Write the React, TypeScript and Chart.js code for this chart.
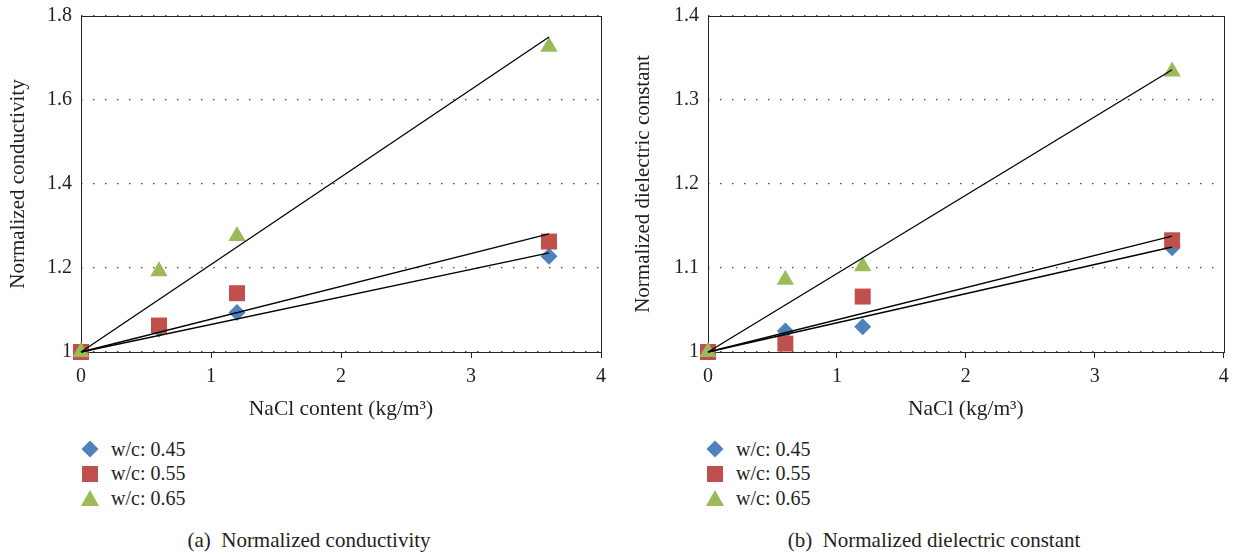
import React, { useEffect, useRef } from "react";
import { Chart, registerables } from "chart.js";

Chart.register(...registerables);

// ---------- data ----------
const naclContent = [0, 0.6, 1.2, 3.6];
const trendX = [0, 3.6];

const seriesLabels = ["w/c: 0.45", "w/c: 0.55", "w/c: 0.65"];
const seriesColors = ["#4F81BD", "#C0504D", "#9BBB59"];
const markerStyles = ["rectRot", "rect", "triangle"];
const markerRadius = [8.5, 11.3, 10];

// (a) normalized conductivity
const condWc045 = [1, 1.055, 1.094, 1.228];
const condWc055 = [1, 1.063, 1.14, 1.263];
const condWc065 = [1, 1.192, 1.276, 1.727];
const condTrendEnd = [1.236, 1.281, 1.75];
const condTicks = [1, 1.2, 1.4, 1.6, 1.8];

// (b) normalized dielectric constant
const dielWc045 = [1, 1.025, 1.03, 1.124];
const dielWc055 = [1, 1.01, 1.066, 1.133];
const dielWc065 = [1, 1.086, 1.102, 1.334];
const dielTrendEnd = [1.125, 1.138, 1.336];
const dielTicks = [1, 1.1, 1.2, 1.3, 1.4];

const xTicks = [0, 1, 2, 3, 4];

const FONT = "'Liberation Serif', 'DejaVu Serif', serif";
const TEXT = "#231f20";

const boxPlugin = {
  id: "plotBox",
  beforeDatasetsDraw(chart: any) {
    const { ctx, chartArea } = chart;
    ctx.save();
    ctx.strokeStyle = "#222";
    ctx.lineWidth = 1;
    ctx.strokeRect(
      Math.round(chartArea.left) + 0.5,
      Math.round(chartArea.top) + 0.5,
      Math.round(chartArea.right - chartArea.left),
      Math.round(chartArea.bottom - chartArea.top)
    );
    ctx.restore();
  },
};

type PanelProps = {
  left: number;
  width: number;
  height: number;
  yAxisW: number;
  padRight: number;
  yTitlePad: number;
  series: number[][];
  trendEnds: number[];
  yTicks: number[];
  yTitle: string;
  xTitle: string;
};

function Panel(p: PanelProps) {
  const ref = useRef<HTMLCanvasElement | null>(null);
  useEffect(() => {
    if (!ref.current) return;
    const datasets: any[] = [];
    // trend lines (drawn on top)
    p.trendEnds.forEach((end, i) => {
      datasets.push({
        type: "line",
        label: "trend " + seriesLabels[i],
        data: trendX.map((x, k) => ({ x, y: k === 0 ? 1 : end })),
        borderColor: "#000",
        borderWidth: 1.3,
        pointRadius: 0,
        showLine: true,
        fill: false,
        clip: false,
        order: 0,
      });
    });
    p.series.forEach((vals, i) => {
      datasets.push({
        type: "scatter",
        label: seriesLabels[i],
        data: naclContent.map((x, k) => ({ x, y: vals[k] })),
        backgroundColor: seriesColors[i],
        borderColor: seriesColors[i],
        pointStyle: markerStyles[i],
        pointRadius: markerRadius[i],
        pointBorderWidth: 0,
        showLine: false,
        clip: false,
        order: 3 - i,
      });
    });
    const yMin = p.yTicks[0];
    const yMax = p.yTicks[p.yTicks.length - 1];
    const chart = new Chart(ref.current, {
      type: "scatter",
      data: { datasets },
      plugins: [boxPlugin],
      options: {
        animation: false,
        responsive: false,
        layout: { padding: { left: 0, top: 16, right: p.padRight, bottom: 0 } },
        plugins: { legend: { display: false }, tooltip: { enabled: false } },
        scales: {
          x: {
            type: "linear",
            min: 0,
            max: 4,
            afterBuildTicks: (s: any) => {
              s.ticks = xTicks.map((v) => ({ value: v }));
            },
            afterFit: (s: any) => {
              s.height = p.height - 352;
              s.paddingLeft = 0;
              s.paddingRight = 0;
            },
            ticks: {
              font: { family: FONT, size: 20 },
              color: TEXT,
              padding: 7,
              maxRotation: 0,
              callback: (v: any) => String(v),
            },
            grid: {
              display: true,
              drawOnChartArea: false,
              drawTicks: true,
              tickLength: 6,
              tickColor: "#222",
              tickWidth: 1,
            },
            border: { display: false },
            title: {
              display: true,
              text: p.xTitle,
              font: { family: FONT, size: 21.5 },
              color: TEXT,
              padding: { top: 0, bottom: 3 },
            },
          },
          y: {
            type: "linear",
            min: yMin,
            max: yMax,
            afterBuildTicks: (s: any) => {
              s.ticks = p.yTicks.map((v) => ({ value: v }));
            },
            afterFit: (s: any) => {
              s.width = p.yAxisW;
              s.paddingTop = 0;
              s.paddingBottom = 0;
            },
            ticks: {
              font: { family: FONT, size: 20 },
              color: TEXT,
              padding: 9,
              callback: (v: any) => String(v),
            },
            grid: {
              display: true,
              drawTicks: false,
              color: "#444",
              lineWidth: 1.2,
            },
            border: { display: false, dash: [1.5, 10.5] },
            title: {
              display: true,
              text: p.yTitle,
              font: { family: FONT, size: 21 },
              color: TEXT,
              padding: { top: p.yTitlePad, bottom: 0 },
            },
          },
        },
      } as any,
    });
    return () => chart.destroy();
  }, []);
  return (
    <canvas
      ref={ref}
      width={p.width}
      height={p.height}
      style={{ position: "absolute", left: p.left, top: 0, width: p.width, height: p.height }}
    />
  );
}

function Marker({ i }: { i: number }) {
  const c = seriesColors[i];
  if (i === 0)
    return (
      <div style={{ width: 12, height: 12, background: c, transform: "rotate(45deg)" }} />
    );
  if (i === 1) return <div style={{ width: 16, height: 16, background: c }} />;
  return (
    <div
      style={{
        width: 0,
        height: 0,
        borderLeft: "9px solid transparent",
        borderRight: "9px solid transparent",
        borderBottom: "16px solid " + c,
      }}
    />
  );
}

function Legend({ x, y }: { x: number; y: number }) {
  return (
    <>
      {seriesLabels.map((lab, i) => (
        <div
          key={lab}
          style={{
            position: "absolute",
            left: x - 12,
            top: y + i * 24.6 - 12,
            height: 24,
            display: "flex",
            alignItems: "center",
            fontFamily: FONT,
            fontSize: 20,
            color: TEXT,
            whiteSpace: "nowrap",
          }}
        >
          <div style={{ width: 24, height: 24, display: "flex", alignItems: "center", justifyContent: "center" }}>
            <Marker i={i} />
          </div>
          <span style={{ marginLeft: 9 }}>{lab}</span>
        </div>
      ))}
    </>
  );
}

function Caption({ cx, text }: { cx: number; text: string }) {
  return (
    <div
      style={{
        position: "absolute",
        left: cx - 200,
        width: 400,
        top: 528,
        textAlign: "center",
        fontFamily: FONT,
        fontSize: 21,
        lineHeight: "24px",
        color: TEXT,
        whiteSpace: "pre",
      }}
    >
      {text}
    </div>
  );
}

export default function App() {
  return (
    <div
      style={{
        position: "absolute",
        left: 0,
        top: 0,
        width: 1235,
        height: 554,
        background: "#fff",
        overflow: "hidden",
      }}
    >
      <Panel
        left={0}
        width={617}
        height={425}
        yAxisW={81}
        padRight={16}
        yTitlePad={6}
        series={[condWc045, condWc055, condWc065]}
        trendEnds={condTrendEnd}
        yTicks={condTicks}
        yTitle="Normalized conductivity"
        xTitle="NaCl content (kg/m³)"
      />
      <Panel
        left={617}
        width={618}
        height={425}
        yAxisW={91}
        padRight={9}
        yTitlePad={14}
        series={[dielWc045, dielWc055, dielWc065]}
        trendEnds={dielTrendEnd}
        yTicks={dielTicks}
        yTitle="Normalized dielectric constant"
        xTitle="NaCl (kg/m³)"
      />
      <Legend x={90} y={449} />
      <Legend x={715} y={449} />
      <Caption cx={309} text={"(a)  Normalized conductivity"} />
      <Caption cx={934} text={"(b)  Normalized dielectric constant"} />
    </div>
  );
}
